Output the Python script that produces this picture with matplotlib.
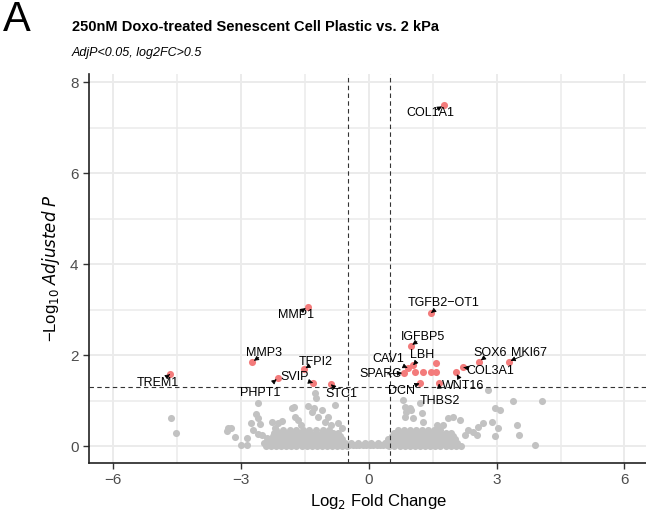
import matplotlib
matplotlib.use("Agg")
import matplotlib.pyplot as plt

plt.rcParams["font.family"] = ["Liberation Sans", "DejaVu Sans"]

# Significant genes: name, log2 fold change, -log10 adjusted p
sig_genes = ["COL1A1", "MMP1", "TGFB2\u2212OT1", "IGFBP5", "CAV1", "LBH", "SPARC",
             "DCN", "THBS2", "WNT16", "COL3A1", "SOX6", "MKI67",
             "TREM1", "MMP3", "TFPI2", "SVIP", "PHPT1", "STC1"]
sig_fc = [1.76, -1.44, 1.46, 0.98, 0.91, 1.04, 0.83,
          1.19, 1.65, 2.04, 2.22, 2.59, 3.28,
          -4.67, -2.74, -1.53, -1.31, -2.13, -0.89]
sig_p = [7.49, 3.06, 2.93, 2.20, 1.72, 1.78, 1.61,
         1.38, 1.38, 1.62, 1.73, 1.86, 1.86,
         1.58, 1.85, 1.69, 1.39, 1.50, 1.36]

# Significant but unlabelled genes
extra_fc = [1.08, 1.28, 1.47, 1.58, 1.58]
extra_p = [1.63, 1.63, 1.63, 1.63, 1.82]

# Non-significant genes away from the dense core
ns_fc = [-4.65, -4.53, -3.30, -3.34, -3.24, -3.15, -3.00, -2.87, -2.85, -2.77,
         -2.61, -2.60, -2.64, -2.56, -2.72, -2.60, -2.50, -2.40, -2.46, -2.28,
         -2.21, -2.13, -2.05, -1.81, -1.75, -1.74, -1.66, -1.60, -1.44, -1.33,
         -1.28, -1.19, -1.27, -1.23, -1.10, -1.03, -0.96, -0.88, -0.72, -0.63,
         -0.80,
         0.85, 1.00, 1.20, 0.88, 0.85, 1.04, 1.24, 1.28, 1.86, 1.98,
         2.14, 1.59, 1.75, 2.33, 2.45, 2.57, 2.68, 2.88, 2.53, 2.25,
         0.81, 0.96, 2.80, 3.39, 4.07, 2.96, 3.09, 3.04, 2.97, 3.47,
         3.52, 3.90]
ns_p = [0.61, 0.30, 0.40, 0.33, 0.39, 0.20, 0.02, 0.02, 0.18, 0.52,
        0.94, 0.61, 0.70, 0.48, 0.35, 0.26, 0.24, 0.17, 0.08, 0.53,
        0.39, 0.50, 0.55, 0.84, 0.86, 0.64, 0.57, 0.46, 0.89, 0.75,
        0.83, 0.64, 1.16, 1.05, 0.79, 0.53, 0.64, 0.46, 0.50, 0.39,
        0.90,
        0.86, 0.79, 0.94, 0.75, 0.64, 0.61, 0.72, 0.53, 0.61, 0.64,
        0.57, 0.46, 0.46, 0.35, 0.31, 0.42, 0.50, 0.53, 0.24, 0.25,
        1.01, 0.83, 1.23, 0.99, 0.99, 0.84, 0.79, 0.39, 0.22, 0.46,
        0.24, 0.02]

# Dense core of non-significant genes, grouped by -log10 adjusted p
core_rows = {
    0.01: [-2.42, -2.30, -2.18, -2.06, -1.94, -1.82, -1.70, -1.58, -1.46, -1.34,
           -1.22, -1.10, -0.98, -0.86, -0.74, -0.62, -0.52,
           0.48, 0.60, 0.72, 0.84, 0.96, 1.08, 1.20, 1.32, 1.44, 1.56, 1.68,
           1.80, 1.92, 2.04, 2.16],
    0.02: [-0.46, -0.38, -0.30, -0.22, -0.14, -0.06, 0.02, 0.10, 0.18, 0.26,
           0.34, 0.42],
    0.06: [-0.42, -0.26, -0.10, 0.06, 0.22, 0.38],
    0.08: [-2.36, -2.24, -2.12, -2.00, -1.88, -1.76, -1.64, -1.52, -1.40, -1.28,
           -1.16, -1.04, -0.92, -0.80, -0.68, -0.57,
           0.40, 0.52, 0.64, 0.76, 0.88, 1.00, 1.12, 1.24, 1.36, 1.48, 1.60,
           1.72, 1.84, 1.96, 2.08],
    0.15: [-2.30, -2.18, -2.06, -1.94, -1.82, -1.70, -1.58, -1.46, -1.34, -1.22,
           -1.10, -0.98, -0.86, -0.74, -0.62,
           0.46, 0.58, 0.70, 0.82, 0.94, 1.06, 1.18, 1.30, 1.42, 1.54, 1.66,
           1.78, 1.90, 2.02],
    0.22: [-2.26, -2.12, -2.00, -1.88, -1.76, -1.64, -1.52, -1.40, -1.28, -1.16,
           -1.04, -0.92, -0.80, -0.68,
           0.54, 0.66, 0.78, 0.90, 1.02, 1.14, 1.26, 1.38, 1.50, 1.62, 1.74,
           1.86, 1.98],
    0.29: [-2.22, -2.08, -1.94, -1.80, -1.66, -1.52, -1.38, -1.24, -1.10, -0.96,
           -0.84, -0.72,
           0.60, 0.72, 0.84, 0.96, 1.08, 1.20, 1.32, 1.44, 1.56, 1.68, 1.80,
           1.92],
    0.36: [-2.18, -2.02, -1.86, -1.70, -1.54, -1.40, -1.24, -1.08, -0.94,
           0.68, 0.82, 0.96, 1.10, 1.24, 1.38, 1.52, 1.66],
}

# Label text offsets (data units) relative to each point
label_offsets = {
    "COL1A1": (-0.32, -0.17), "MMP1": (-0.28, -0.18), "TGFB2\u2212OT1": (0.30, 0.21),
    "IGFBP5": (0.28, 0.19), "CAV1": (-0.46, 0.19), "LBH": (0.21, 0.22),
    "SPARC": (-0.56, -0.03), "DCN": (-0.42, -0.16), "THBS2": (0.02, -0.39),
    "WNT16": (0.18, -0.29), "COL3A1": (0.64, -0.08), "SOX6": (0.26, 0.18),
    "MKI67": (0.47, 0.18), "TREM1": (-0.29, -0.20), "MMP3": (0.29, 0.19),
    "TFPI2": (0.28, 0.16), "SVIP": (-0.43, 0.13), "PHPT1": (-0.42, -0.34),
    "STC1": (0.25, -0.22),
}

core_fc = [x for y, xs in core_rows.items() for x in xs]
core_p = [y for y, xs in core_rows.items() for x in xs]

GREY = "#c2c2c2"
RED = "#f37b7b"

fig = plt.figure(figsize=(6.46, 5.18), dpi=100)
# panel continues past the right edge of the canvas
ax = fig.add_axes([89 / 646, 1 - 463 / 518, (667 - 89) / 646, (463 - 74) / 518])

ax.set_xlim(-6.57, 7.0)
ax.set_ylim(-0.37, 8.18)

ax.set_xticks([-6, -3, 0, 3, 6])
ax.set_xticks([-4.5, -1.5, 1.5, 4.5], minor=True)
ax.set_yticks([0, 2, 4, 6, 8])
ax.set_yticks([1, 3, 5, 7], minor=True)
ax.grid(True, which="major", color="#ebebeb", lw=1.4)
ax.grid(True, which="minor", color="#ebebeb", lw=1.1)
ax.set_axisbelow(True)
ax.tick_params(which="minor", length=0)
ax.tick_params(which="major", length=4, width=1.0, color="#333333",
               labelsize=11, labelcolor="#4d4d4d")
for s in ("top", "right"):
    ax.spines[s].set_visible(False)
for s in ("left", "bottom"):
    ax.spines[s].set_linewidth(1.2)
    ax.spines[s].set_color("#222222")

ax.scatter(core_fc, core_p, s=26, color=GREY, lw=0, zorder=2)
ax.scatter(ns_fc, ns_p, s=26, color=GREY, lw=0, zorder=2)
ax.scatter(extra_fc, extra_p, s=26, color=RED, lw=0, zorder=3)
ax.scatter(sig_fc, sig_p, s=26, color=RED, lw=0, zorder=3)

ax.axvline(-0.5, color="#333333", lw=0.8, ls=(0, (4, 3)), zorder=4)
ax.axvline(0.5, color="#333333", lw=0.8, ls=(0, (4, 3)), zorder=4)
ax.axhline(1.301, color="#333333", lw=0.8, ls=(0, (4, 3)), zorder=4)

for g, x, y in zip(sig_genes, sig_fc, sig_p):
    dx, dy = label_offsets[g]
    ax.annotate(g, xy=(x, y), xytext=(x + dx, y + dy), fontsize=9,
                ha="center", va="center", zorder=5, annotation_clip=False,
                arrowprops=dict(arrowstyle="-|>", color="black", lw=0.6,
                                mutation_scale=7, shrinkA=5, shrinkB=1.5))

ax.set_xlabel("Log$_2$ Fold Change", fontsize=12, labelpad=4)
ax.xaxis.set_label_coords((378 - 89) / (667 - 89), -0.075)
ax.set_ylabel("\u2212Log$_{10}$ $\\it{Adjusted\\ P}$", fontsize=12, labelpad=6)

fig.text(72 / 646, 1 - 27 / 518, "250nM Doxo-treated Senescent Cell Plastic vs. 2 kPa",
         fontsize=10.5, fontweight="bold", va="center", ha="left")
fig.text(72 / 646, 1 - 53 / 518, "AdjP<0.05, log2FC>0.5",
         fontsize=9, style="italic", va="center", ha="left")
fig.text(3 / 646, 1 - 20 / 518, "A", fontsize=30, va="center", ha="left")

fig.savefig("out.png", dpi=100)
